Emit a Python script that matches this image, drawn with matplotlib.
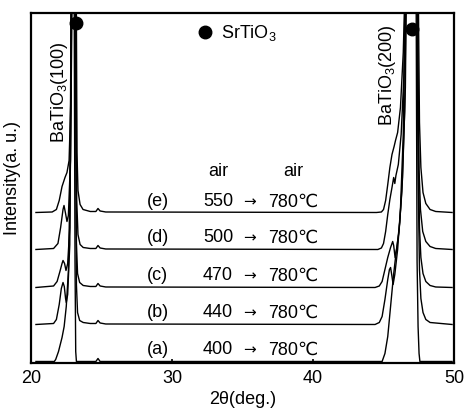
import numpy as np
import matplotlib.pyplot as plt

plt.rcParams['font.family'] = ['Liberation Sans', 'DejaVu Sans']
plt.rcParams['mathtext.fontset'] = 'custom'
plt.rcParams['mathtext.rm'] = 'Liberation Sans'
plt.rcParams['mathtext.it'] = 'Liberation Sans:italic'

# XRD-Muster, Werte (Hoehe ueber der jeweiligen Grundlinie)
e_tth = [20.35, 21.5, 21.8, 22.0, 22.2, 22.41, 22.55, 22.7, 22.84, 22.95, 23.15, 23.26, 23.33, 23.48, 23.69,
         24.2, 24.6, 24.75, 24.9, 25.3, 44.5, 44.85, 45.0, 45.15, 45.3, 45.45, 45.6, 45.75, 45.85, 46.0, 46.2,
         46.4, 46.55, 46.7, 46.8, 47.4, 47.48, 47.55, 47.65, 47.8, 48.0, 48.3, 48.7, 49.86]
e_h = [0, 0.5, 3, 12, 26, 35, 40, 52, 120, 420, 420, 60, 22, 8, 3,
       1, 1, 4, 1.5, 0.5, 0, 0.5, 3, 12, 28, 45, 58, 66, 72, 80, 105,
       160, 240, 340, 420, 420, 200, 90, 45, 20, 9, 3, 1, 0]

d_tth = [20.35, 21.6, 21.91, 22.1, 22.27, 22.34, 22.45, 22.55, 22.65, 22.8, 22.92, 23.14, 23.24, 23.33, 23.48,
         23.7, 24.2, 24.6, 24.75, 24.9, 25.3, 44.6, 44.85, 45.0, 45.15, 45.3, 45.45, 45.6, 45.72, 45.8, 45.88,
         46.05, 46.25, 46.45, 46.6, 46.75, 47.35, 47.45, 47.52, 47.62, 47.78, 48.0, 48.3, 48.7, 49.86]
d_h = [0, 1, 6, 22, 40, 44, 36, 28, 34, 90, 420, 420, 50, 15, 5,
       2, 1, 1, 4, 1.5, 0.5, 0, 1.5, 6, 18, 35, 50, 62, 72, 66, 74,
       85, 115, 175, 270, 420, 420, 180, 80, 40, 18, 8, 3, 1, 0]

c_tth = [20.35, 21.6, 21.85, 22.05, 22.2, 22.27, 22.38, 22.48, 22.6, 22.75, 22.9, 23.12, 23.22, 23.3, 23.45,
         23.7, 24.2, 24.6, 24.75, 24.9, 25.3, 44.4, 44.7, 44.9, 45.1, 45.3, 45.5, 45.65, 45.72, 45.82, 45.95,
         46.15, 46.35, 46.55, 46.7, 47.35, 47.45, 47.55, 47.65, 47.8, 48.0, 48.3, 48.7, 49.86]
c_h = [0, 1.5, 6, 16, 24, 27, 24, 17, 24, 60, 420, 420, 45, 14, 5,
       2, 1, 1, 4, 1.5, 0.5, 0, 1.5, 6, 18, 30, 40, 46, 42, 30, 40,
       65, 110, 200, 420, 420, 160, 60, 30, 14, 6, 2, 0.5, 0]

b_tth = [20.35, 21.6, 21.8, 22.0, 22.15, 22.27, 22.36, 22.45, 22.5, 22.6, 22.75, 22.9, 23.12, 23.22, 23.3,
         23.45, 23.7, 24.2, 24.6, 24.75, 24.9, 25.3, 44.4, 44.7, 44.9, 45.1, 45.3, 45.42, 45.5, 45.6, 45.68,
         45.8, 46.0, 46.2, 46.4, 46.6, 47.35, 47.45, 47.55, 47.65, 47.8, 48.0, 48.3, 49.86]
b_h = [0, 1, 5, 20, 36, 42, 38, 26, 22, 30, 80, 420, 420, 40, 12,
       4, 2, 1, 1, 4, 1.5, 0.5, 0, 2, 8, 25, 45, 55, 57, 48, 40,
       50, 75, 115, 190, 420, 420, 150, 55, 26, 12, 5, 2, 0]

a_tth = [20.35, 21.65, 21.75, 21.95, 22.2, 22.35, 22.5, 22.65, 22.8, 22.95, 23.05, 23.12, 23.17, 23.22,
         24.6, 24.75, 24.9, 44.9, 45.1, 45.3, 45.5, 45.7, 45.9, 46.1, 46.3, 46.5, 46.65, 47.3, 47.38,
         47.45, 47.52, 47.58, 49.86]
a_h = [0, 0, 2, 10, 24, 35, 55, 90, 200, 420, 420, 100, 10, 0,
       0, 3, 0, 0, 8, 25, 55, 85, 110, 130, 170, 250, 420, 420, 100,
       35, 8, 0, 0]

# Grundlinien (Versatz) der Kurven von unten nach oben
sample_names = ["(a)", "(b)", "(c)", "(d)", "(e)"]
offsets = [1.5, 38.5, 75.5, 113.5, 150.5]
start_temps = ["400", "440", "470", "500", "550"]
end_temp = "780\u2103"
label_y = [14, 51, 88, 126, 162]

traces = [(a_tth, a_h), (b_tth, b_h), (c_tth, c_h), (d_tth, d_h), (e_tth, e_h)]

fig = plt.figure(figsize=(4.65, 4.14), dpi=100)
ax = fig.add_axes([0.0667, 0.1208, 0.9097, 0.8454])

for (tth, h), off in zip(traces, offsets):
    ax.plot(tth, np.array(h) + off, color="black", linewidth=1.0)

# SrTiO3 Markierungen ueber den Peaks
ax.plot([23.2], [340], "o", color="black", markersize=9)
ax.plot([47.05], [334], "o", color="black", markersize=9)
ax.plot([32.34], [331], "o", color="black", markersize=9)
ax.text(33.5, 331, "SrTiO$_3$", fontsize=13, va="center", ha="left")

ax.text(22.0, 272, "BaTiO$_3$(100)", fontsize=13, rotation=90, ha="center", va="center")
ax.text(45.25, 289, "BaTiO$_3$(200)", fontsize=13, rotation=90, ha="center", va="center")

# Beschriftung der Proben
ax.text(33.26, 192, "air", fontsize=13, ha="center", va="center")
ax.text(38.6, 192, "air", fontsize=13, ha="center", va="center")
for name, t0, yy in zip(sample_names, start_temps, label_y):
    ax.text(29.0, yy, name, fontsize=13, ha="center", va="center")
    ax.text(33.26, yy, t0, fontsize=13, ha="center", va="center")
    ax.text(35.5, yy, "\u2192", fontsize=11, ha="center", va="center", family="DejaVu Sans")
    ax.text(38.6, yy, end_temp, fontsize=13, ha="center", va="center")

ax.set_xlim(20, 50)
ax.set_ylim(0, 350)
ax.set_xticks([20, 30, 40, 50])
ax.set_yticks([])
ax.tick_params(axis="x", direction="in", length=3, width=1.2, labelsize=13, pad=4)
for s in ax.spines.values():
    s.set_linewidth(1.6)

ax.set_xlabel("2\u03b8(deg.)", fontsize=13, labelpad=3)
ax.set_ylabel("Intensity(a. u.)", fontsize=13)
ax.yaxis.set_label_coords(-0.023, 0.53)

fig.savefig("out.png", dpi=100)
plt.close()
